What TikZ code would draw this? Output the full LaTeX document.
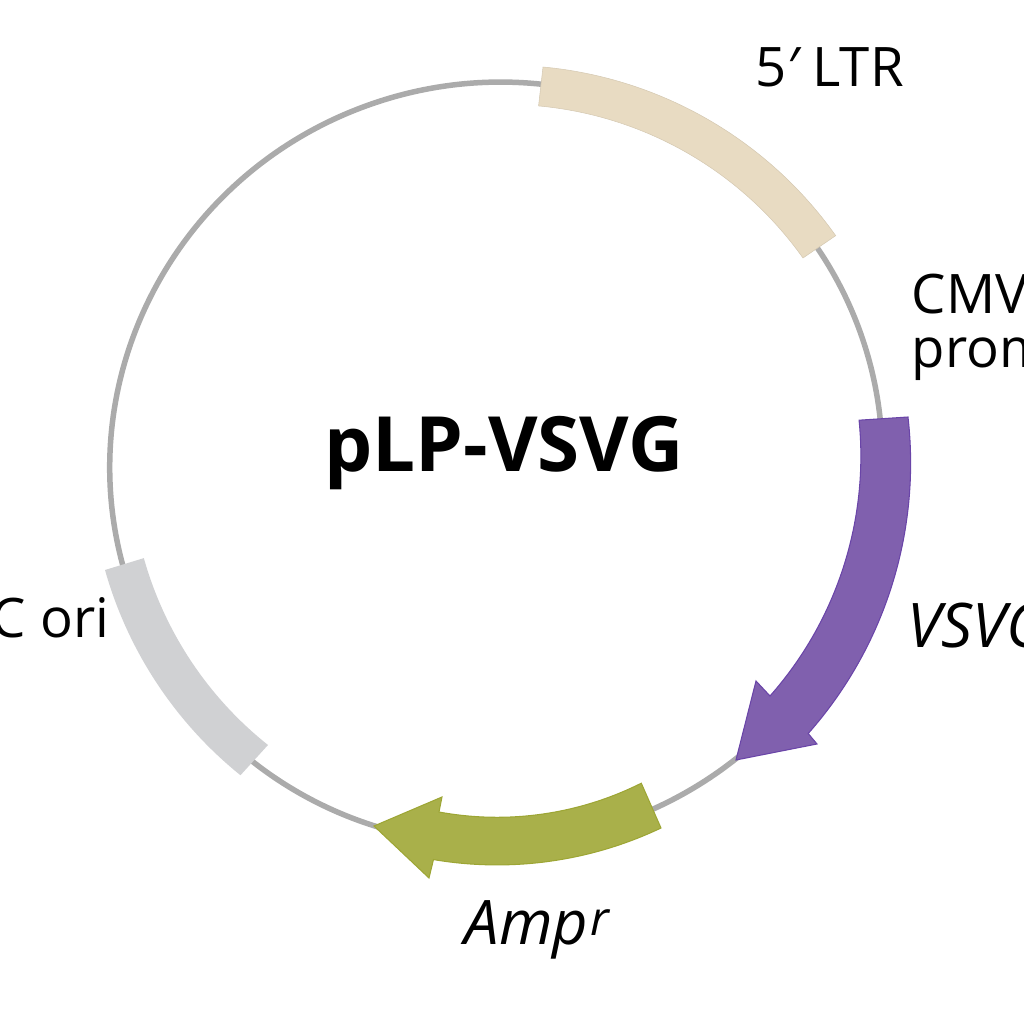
\documentclass[tikz,border=0pt]{standalone}
\usepackage{fontspec}
\setmainfont{Open Sans}
\definecolor{backbone}{HTML}{ABABAB}
\definecolor{ltrfill}{HTML}{E8DBC2}
\definecolor{vsvgfill}{HTML}{8060AE}
\definecolor{vsvgedge}{HTML}{6A45A8}
\definecolor{ampfill}{HTML}{A9B04A}
\definecolor{ampedge}{HTML}{9DA635}
\definecolor{orifill}{HTML}{D0D1D3}
\tikzset{
  featlabel/.style={anchor=base west,inner sep=0pt,font=\fontsize{15.5}{15.6}\selectfont},
  genelabel/.style={featlabel,font=\fontsize{17.5}{20}\selectfont\itshape},
}
\begin{document}
\begin{tikzpicture}

\useasboundingbox (0,0) rectangle (10.24,10.24);
\clip (0,0) rectangle (10.24,10.24);

%=== Backbone ===
\draw[backbone,line width=0.55mm] (4.96,5.61) ellipse[x radius=3.87,y radius=3.80,rotate=20];

%=== Features ===
% 5' LTR
\fill[ltrfill,draw=ltrfill!92!black,line width=0.15pt] (5.43,9.57) arc[start angle=84.7,end angle=35.4,radius=4.05]
  -- (8.03,7.66) arc[start angle=35.4,end angle=84.8,radius=3.65] -- cycle;

% VSVG arrow
\fill[vsvgfill,draw=vsvgedge,line width=0.3pt] (9.08,6.07) arc[start angle=6.5,end angle=-41.5,radius=4.08]
  -- (8.17,2.80) -- (7.36,2.64) -- (7.56,3.43)
  -- (7.70,3.28) arc[start angle=-41.5,end angle=5.7,radius=3.62] -- cycle;

% Amp arrow
\fill[ampfill,draw=ampedge,line width=0.3pt] (6.61,1.96) arc[start angle=-64.6,end angle=-99.6,radius=3.82]
  -- (4.29,1.46) -- (3.74,1.98) -- (4.42,2.27)
  -- (4.39,2.12) arc[start angle=-100.4,end angle=-63.4,radius=3.22] -- cycle;

% ori
\fill[orifill] (1.05,4.54) arc[start angle=195.75,end angle=231.1,radius=4.05]
  -- (2.68,2.79) arc[start angle=231.5,end angle=195.7,radius=3.65] -- cycle;

%=== Labels ===
\node[anchor=base,inner sep=0pt,font=\fontsize{21.7}{24}\selectfont\bfseries] (title) at (5.04,5.52) {pLP-VSVG};
\node[featlabel] (ltr) at (7.55,9.37) {5{\itshape′} LTR};
\node[featlabel,align=left] (cmv) at (9.11,6.56) {CMV\\promoter};
\node[genelabel] (vsvg) at (9.07,3.76) {VSVG};
\node[featlabel,anchor=base east] (ori) at (1.10,3.86) {pUC ori};
\node[genelabel] (amp) at (4.64,0.79) {Amp\hspace{0.02cm}\raisebox{2.8pt}{\fontsize{13.5}{15}\selectfont r}};

\end{tikzpicture}
\end{document}
